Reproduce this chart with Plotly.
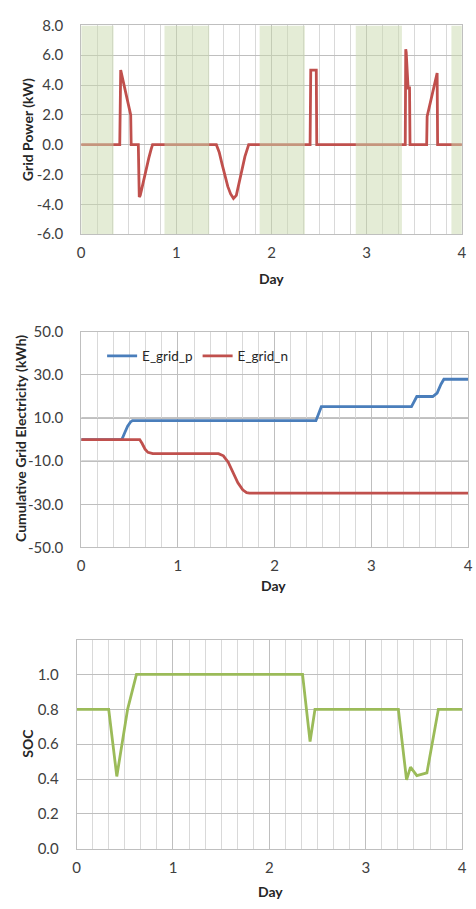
import plotly.graph_objects as go

W, H = 476, 909

# ---- Grid power exchange (kW), positive = import, negative = export ----
p_day = [0, 0.405, 0.415, 0.52, 0.525, 0.60, 0.61, 0.62, 0.635, 0.655, 0.68, 0.71, 0.735, 0.75,
         1.42, 1.45, 1.48, 1.51, 1.54, 1.57, 1.60, 1.63, 1.66, 1.69, 1.72, 1.76,
         2.405, 2.412, 2.47, 2.475,
         3.405, 3.41, 3.415, 3.435, 3.45, 3.455, 3.63, 3.635, 3.74, 3.745, 4.0]
p_kw = [0, 0, 5.0, 2.0, 0, 0, -3.5, -3.4, -3.0, -2.4, -1.7, -0.9, -0.3, 0,
        0, -0.5, -1.3, -2.1, -2.8, -3.3, -3.6, -3.4, -2.6, -1.6, -0.8, 0,
        0, 5.0, 5.0, 0,
        0, 6.4, 6.2, 3.8, 3.8, 0, 0, 1.9, 4.8, 0, 0]

# Off-peak (night) periods, in days
night_start = [0.0, 0.875, 1.875, 2.885, 3.89]
night_end = [0.34, 1.345, 2.35, 3.37, 4.0]

# ---- Cumulative grid electricity (kWh) ----
ep_day = [0, 0.42, 0.45, 0.48, 0.51, 0.53, 2.427, 2.445, 2.465, 2.483,
          3.415, 3.44, 3.47, 3.635, 3.68, 3.72, 3.75, 4.0]
ep_kwh = [0, 0, 3.2, 6.2, 8.2, 8.8, 8.8, 11.0, 13.5, 15.3,
          15.3, 17.8, 20.0, 20.0, 21.6, 25.7, 28.0, 28.0]

en_day = [0, 0.605, 0.63, 0.66, 0.69, 0.72, 0.74, 1.42, 1.47, 1.52, 1.57,
          1.62, 1.67, 1.71, 1.74, 4.0]
en_kwh = [0, 0, -1.8, -4.4, -5.9, -6.4, -6.5, -6.5, -7.5, -10.5, -15.5,
          -20.0, -23.3, -24.6, -24.8, -24.8]

# ---- Battery state of charge ----
soc_day = [0, 0.333, 0.417, 0.529, 0.621, 2.344, 2.422, 2.473, 3.338, 3.423,
           3.464, 3.53, 3.634, 3.753, 4.0]
soc = [0.8, 0.8, 0.415, 0.8, 1.0, 1.0, 0.615, 0.8, 0.8, 0.395,
       0.468, 0.42, 0.435, 0.8, 0.8]

day_ticks = [0, 1, 2, 3, 4]

RED = "#c0504d"
BLUE = "#4a7ebb"
GREEN = "#9bbb59"
GRID_MAJ = "#bfbfbf"
GRID_MIN = "#d9d9d9"
TXT = "#404040"
FONT = "Lato"


def px_x(px):
    return px / W


def px_y(py):
    return 1 - py / H


fig = go.Figure()

fig.add_trace(go.Scatter(x=p_day, y=p_kw, mode="lines", line=dict(color=RED, width=2.8),
                         xaxis="x", yaxis="y", showlegend=False))
fig.add_trace(go.Scatter(x=ep_day, y=ep_kwh, mode="lines", name="E_grid_p",
                         line=dict(color=BLUE, width=2.8), xaxis="x2", yaxis="y2"))
fig.add_trace(go.Scatter(x=en_day, y=en_kwh, mode="lines", name="E_grid_n",
                         line=dict(color=RED, width=2.8), xaxis="x2", yaxis="y2"))
fig.add_trace(go.Scatter(x=soc_day, y=soc, mode="lines", line=dict(color=GREEN, width=2.8),
                         xaxis="x3", yaxis="y3", showlegend=False))


def xaxis(domain, anchor):
    return dict(domain=domain, anchor=anchor, range=[0, 4], tickvals=day_ticks,
                ticktext=[str(d) for d in day_ticks], showgrid=True, gridcolor=GRID_MAJ,
                gridwidth=1, minor=dict(dtick=1 / 6, showgrid=True, gridcolor=GRID_MIN, gridwidth=1),
                zeroline=False, showline=True, linecolor=GRID_MAJ, linewidth=1, mirror=True,
                ticks="", ticklabelstandoff=5, tickfont=dict(family=FONT, size=15, color=TXT),
                fixedrange=True)


def yaxis(domain, anchor, rng, vals, labels):
    return dict(domain=domain, anchor=anchor, range=rng, tickvals=vals,
                ticktext=labels, showgrid=True, gridcolor=GRID_MAJ,
                gridwidth=1, zeroline=False, showline=True, linecolor=GRID_MAJ, linewidth=1,
                mirror=True, ticks="", ticklabelstandoff=14,
                tickfont=dict(family=FONT, size=15, color=TXT), fixedrange=True)


power_ticks = [-6, -4, -2, 0, 2, 4, 6, 8]
energy_ticks = [-50, -30, -10, 10, 30, 50]
soc_ticks = [0, 0.2, 0.4, 0.6, 0.8, 1.0, 1.2]

fig.update_layout(
    width=W, height=H, margin=dict(l=0, r=0, t=0, b=0),
    paper_bgcolor="white", plot_bgcolor="white",
    font=dict(family=FONT, color=TXT),
    xaxis=xaxis([px_x(78.7), px_x(466.7)], "y"),
    yaxis=yaxis([px_y(228.7), px_y(15.7)], "x", [-6, 8], power_ticks,
                [f"{v:.1f}" for v in power_ticks]),
    xaxis2=xaxis([px_x(78.7), px_x(473)], "y2"),
    yaxis2=yaxis([px_y(548.3), px_y(328.3)], "x2", [-50, 50], energy_ticks,
                 [f"{v:.1f}" for v in energy_ticks]),
    xaxis3=xaxis([px_x(74), px_x(467)], "y3"),
    # top gridline at 1.2 carries no label
    yaxis3=yaxis([px_y(855.7), px_y(642.3)], "x3", [0, 1.2], soc_ticks,
                 [f"{v:.1f}" for v in soc_ticks[:-1]] + [""]),
    legend=dict(orientation="h", x=px_x(100), y=px_y(353), xanchor="left", yanchor="middle",
                bgcolor="rgba(0,0,0,0)", font=dict(family=FONT, size=13.5, color="#262626"),
                itemwidth=30),
)

# off-peak shading over the grid power panel
for s, e in zip(night_start, night_end):
    fig.add_shape(type="rect", xref="x", yref="y", x0=s, x1=e, y0=-6, y1=8,
                  fillcolor="rgb(201,217,173)", opacity=0.5, line=dict(width=0), layer="above")

# slightly heavier guides at +/-10 kWh
for v in (10, -10):
    fig.add_shape(type="line", xref="x2", yref="y2", x0=0, x1=4, y0=v, y1=v,
                  line=dict(color="#b0b0b0", width=1.6), layer="below")

title_font = dict(family=FONT, size=14, color="#262626")
annots = [
    dict(text="<b>Grid Power (kW)</b>", x=px_x(24), y=px_y(122), textangle=-90),
    dict(text="<b>Day</b>", x=px_x(272.5), y=px_y(274)),
    dict(text="<b>Cumulative Grid Electricity (kWh)</b>", x=px_x(17), y=px_y(437), textangle=-90),
    dict(text="<b>Day</b>", x=px_x(274.5), y=px_y(587)),
    dict(text="<b>SOC</b>", x=px_x(24), y=px_y(748), textangle=-90),
    dict(text="<b>Day</b>", x=px_x(272), y=px_y(899)),
]
for a in annots:
    fig.add_annotation(xref="paper", yref="paper", showarrow=False, font=title_font,
                       xanchor="center", yanchor="middle", **a)

fig.write_html("out.html")
